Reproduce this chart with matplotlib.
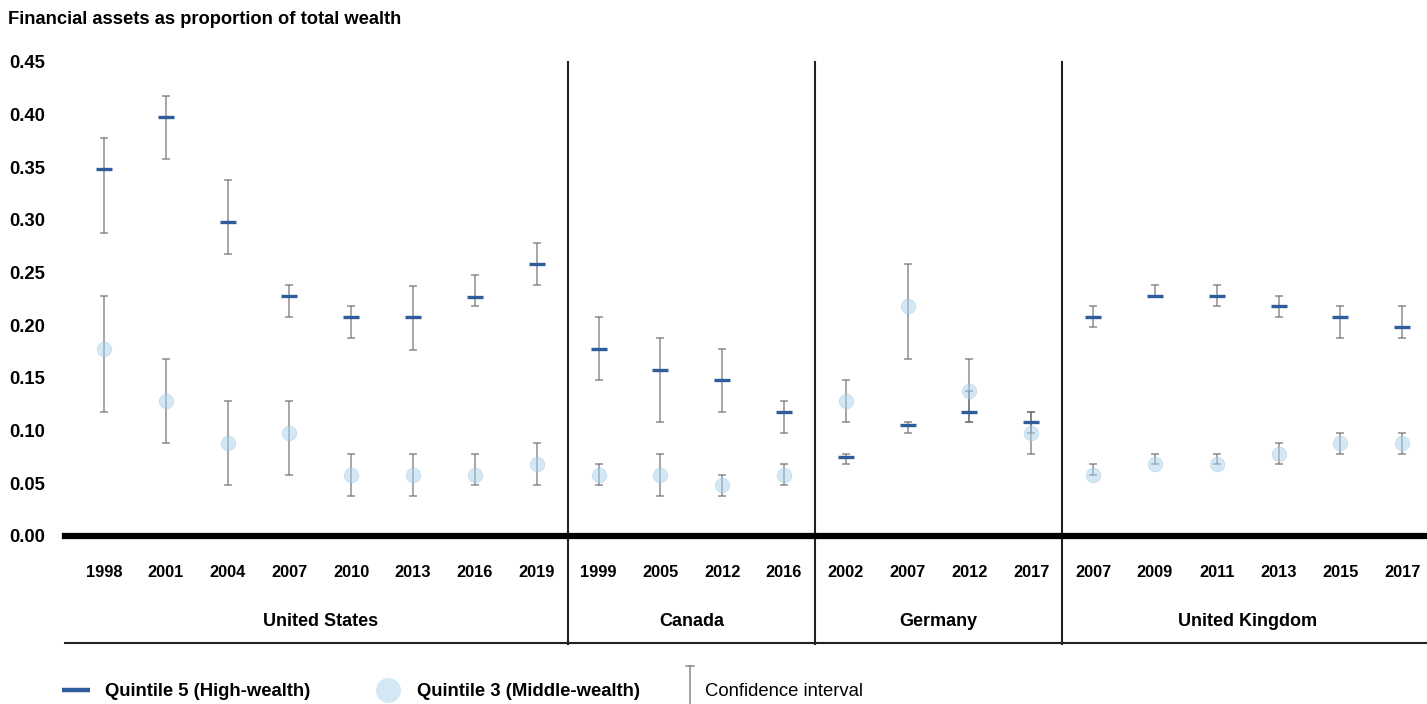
import matplotlib
matplotlib.use("Agg")
import matplotlib.pyplot as plt
from matplotlib.lines import Line2D
from matplotlib.legend_handler import HandlerBase
import matplotlib.transforms as mtransforms

plt.rcParams['font.family'] = ['Liberation Sans', 'DejaVu Sans']

# survey years, grouped by country
countries = ["United States", "Canada", "Germany", "United Kingdom"]
years = [
    ["1998", "2001", "2004", "2007", "2010", "2013", "2016", "2019"],
    ["1999", "2005", "2012", "2016"],
    ["2002", "2007", "2012", "2017"],
    ["2007", "2009", "2011", "2013", "2015", "2017"],
]

# quintile 5 (high wealth): estimate and confidence bounds
q5 = [0.348, 0.398, 0.298, 0.228, 0.208, 0.208, 0.227, 0.258,
      0.178, 0.158, 0.148, 0.118,
      0.075, 0.105, 0.118, 0.108,
      0.208, 0.228, 0.228, 0.218, 0.208, 0.198]
q5_lo = [0.288, 0.358, 0.268, 0.208, 0.188, 0.177, 0.218, 0.238,
         0.148, 0.108, 0.118, 0.098,
         0.068, 0.098, 0.108, 0.098,
         0.198, 0.228, 0.218, 0.208, 0.188, 0.188]
q5_hi = [0.378, 0.418, 0.338, 0.238, 0.218, 0.237, 0.248, 0.278,
         0.208, 0.188, 0.178, 0.128,
         0.078, 0.108, 0.138, 0.118,
         0.218, 0.238, 0.238, 0.228, 0.218, 0.218]

# quintile 3 (middle wealth): estimate and confidence bounds
q3 = [0.178, 0.128, 0.088, 0.098, 0.058, 0.058, 0.058, 0.068,
      0.058, 0.058, 0.048, 0.058,
      0.128, 0.218, 0.138, 0.098,
      0.058, 0.068, 0.068, 0.078, 0.088, 0.088]
q3_lo = [0.118, 0.088, 0.048, 0.058, 0.038, 0.038, 0.048, 0.048,
         0.048, 0.038, 0.038, 0.048,
         0.108, 0.168, 0.108, 0.078,
         0.058, 0.068, 0.068, 0.068, 0.078, 0.078]
q3_hi = [0.228, 0.168, 0.128, 0.128, 0.078, 0.078, 0.078, 0.088,
         0.068, 0.078, 0.058, 0.068,
         0.148, 0.258, 0.168, 0.118,
         0.068, 0.078, 0.078, 0.088, 0.098, 0.098]

yticks = [0.0, 0.05, 0.10, 0.15, 0.20, 0.25, 0.30, 0.35, 0.40, 0.45]

Q5_COLOR = '#2f5d9c'
Q3_COLOR = '#a9d0ea'
CI_COLOR = '#6e6e6e'

labels = [y for grp in years for y in grp]
x = list(range(len(labels)))

W, H = 1427, 704
fig = plt.figure(figsize=(W / 100, H / 100), dpi=100)
ax_left, ax_bottom = 65 / W, 1 - 536 / H
ax = fig.add_axes([ax_left, ax_bottom, 1 - ax_left, (536 - 62) / H])

err_kw = dict(fmt='none', ecolor=CI_COLOR, elinewidth=1.15, capsize=2.9,
              capthick=1.15, alpha=0.75, zorder=2)
ax.errorbar(x, q5, yerr=[[v - lo for v, lo in zip(q5, q5_lo)],
                         [hi - v for v, hi in zip(q5, q5_hi)]], **err_kw)
ax.errorbar(x, q3, yerr=[[v - lo for v, lo in zip(q3, q3_lo)],
                         [hi - v for v, hi in zip(q3, q3_hi)]], **err_kw)

ax.plot(x, q5, ls='none', marker='_', ms=11.5, mew=2.4, color=Q5_COLOR, zorder=3)
ax.plot(x, q3, ls='none', marker='o', ms=10.5, color=Q3_COLOR, mec='#9cc4e0',
        mew=0.5, alpha=0.5, zorder=4)

ax.set_xlim(-0.63, 21.4)
ax.set_ylim(0, 0.45)
for s in ax.spines.values():
    s.set_visible(False)

ax.axhline(0, color='black', lw=4.5, zorder=5, clip_on=False)

ax.set_yticks(yticks)
ax.set_yticklabels([f"{t:.2f}" for t in yticks], fontweight='bold', fontsize=13.3)
ax.tick_params(axis='y', length=0, pad=14)

ax.set_xticks(x)
ax.set_xticklabels(labels, fontweight='bold', fontsize=11.8)
ax.tick_params(axis='x', length=0, pad=21)

# axes-fraction depth of the group label band
ax_h = (536 - 62) / H
band_bottom = -(644 - 536) / H / ax_h
label_y = -(621 - 536) / H / ax_h

trans = mtransforms.blended_transform_factory(ax.transData, ax.transAxes)
start = 0
for name, grp in zip(countries, years):
    end = start + len(grp)
    if end < len(labels):
        ax.plot([end - 0.5, end - 0.5], [band_bottom, 1], color='#222222',
                lw=1.5, transform=trans, clip_on=False, zorder=1)
    ax.text((start + end - 1) / 2, label_y, name, transform=trans,
            ha='center', va='center', fontweight='bold', fontsize=13)
    start = end

ax.plot([0, 1], [band_bottom + 0.003, band_bottom + 0.003], color='#222222', lw=1.5,
        transform=ax.transAxes, clip_on=False)

fig.text(8 / W, 1 - 19 / H, "Financial assets as proportion of total wealth",
         fontweight='bold', fontsize=13.2, va='center', ha='left')


class CIHandler(HandlerBase):
    def create_artists(self, legend, orig_handle, xdescent, ydescent,
                       width, height, fontsize, trans):
        xc = width
        top = height + 13
        bar = Line2D([xc, xc], [-16, top], color=CI_COLOR, lw=1.1, alpha=0.8,
                     transform=trans)
        cap = Line2D([xc - 3, xc + 3], [top, top], color=CI_COLOR, lw=1.1,
                     alpha=0.8, transform=trans)
        return [bar, cap]


h_q5 = Line2D([], [], ls='none', marker='_', ms=20, mew=3.2, color=Q5_COLOR)
h_q3 = Line2D([], [], ls='none', marker='o', ms=18, color=Q3_COLOR, mec='none',
              alpha=0.5)
h_ci = Line2D([], [])

legend_items = [
    (h_q5, "Quintile 5 (High-wealth)", 62, 'bold'),
    (h_q3, "Quintile 3 (Middle-wealth)", 374, 'bold'),
    (h_ci, "Confidence interval", 662, 'normal'),
]
for handle, text, left, weight in legend_items:
    leg = fig.legend([handle], [text], handler_map={h_ci: CIHandler()},
                     loc='center left', bbox_to_anchor=(left / W, 1 - 692 / H),
                     frameon=False, borderpad=0, borderaxespad=0,
                     handlelength=1.5, handletextpad=0.85,
                     prop={'size': 13.3, 'weight': weight})

fig.savefig("out.png", dpi=100)
